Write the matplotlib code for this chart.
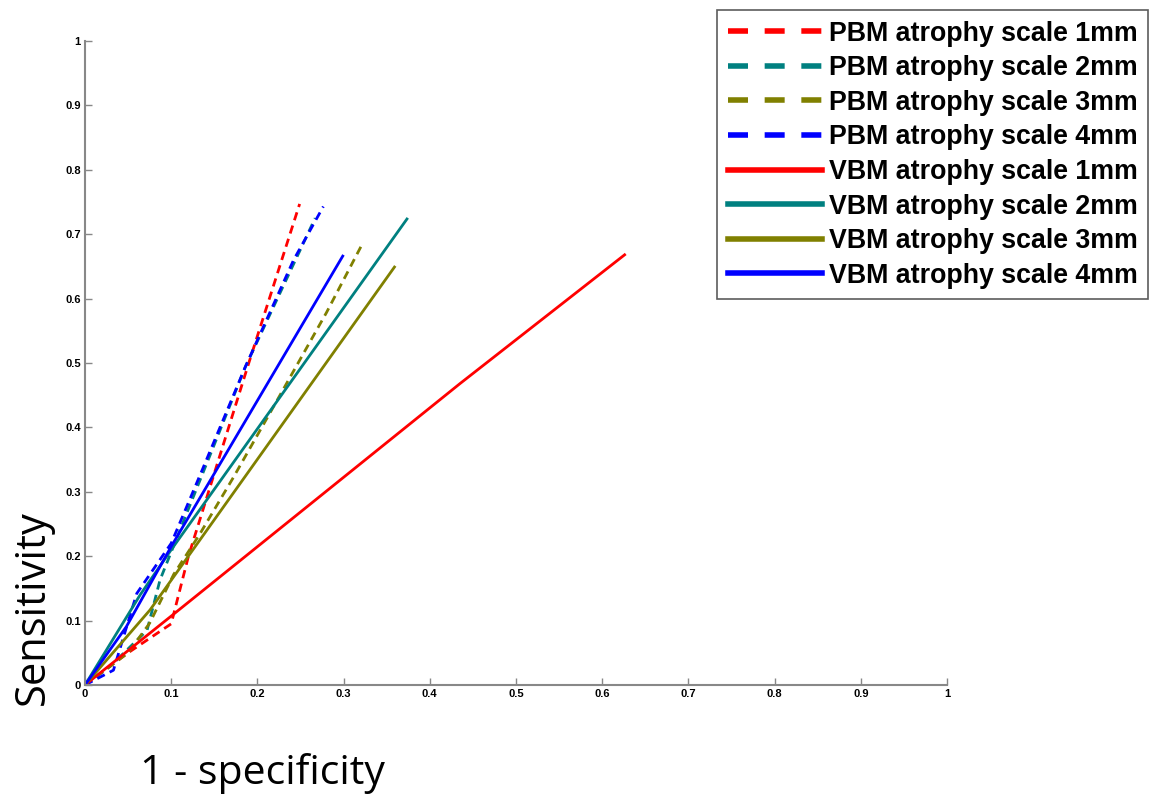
import matplotlib
matplotlib.use("Agg")
import matplotlib.pyplot as plt
from matplotlib.lines import Line2D

labels = ["PBM atrophy scale 1mm", "PBM atrophy scale 2mm", "PBM atrophy scale 3mm", "PBM atrophy scale 4mm",
          "VBM atrophy scale 1mm", "VBM atrophy scale 2mm", "VBM atrophy scale 3mm", "VBM atrophy scale 4mm"]
colors = ["#ff0000", "#008080", "#808000", "#0000ff"] * 2
styles = ["--"] * 4 + ["-"] * 4

pbm1_x = [0, 0.05, 0.10, 0.12, 0.19, 0.249]
pbm1_y = [0, 0.05, 0.095, 0.20, 0.50, 0.747]
pbm2_x = [0, 0.03, 0.072, 0.087, 0.110, 0.149, 0.186, 0.267]
pbm2_y = [0, 0.03, 0.085, 0.163, 0.240, 0.370, 0.494, 0.725]
pbm3_x = [0, 0.05, 0.075, 0.103, 0.133, 0.172, 0.222, 0.280, 0.321]
pbm3_y = [0, 0.05, 0.096, 0.172, 0.234, 0.322, 0.440, 0.578, 0.683]
pbm4_x = [0, 0.033, 0.060, 0.100, 0.136, 0.186, 0.242, 0.2765]
pbm4_y = [0, 0.023, 0.142, 0.220, 0.334, 0.494, 0.660, 0.743]
vbm1_x = [0, 0.10, 0.435, 0.626]
vbm1_y = [0, 0.107, 0.468, 0.668]
vbm2_x = [0, 0.064, 0.10, 0.3735]
vbm2_y = [0, 0.140, 0.210, 0.7236]
vbm3_x = [0, 0.0754, 0.359]
vbm3_y = [0, 0.1165, 0.649]
vbm4_x = [0, 0.048, 0.10, 0.299]
vbm4_y = [0, 0.0906, 0.215, 0.666]

xs = [pbm1_x, pbm2_x, pbm3_x, pbm4_x, vbm1_x, vbm2_x, vbm3_x, vbm4_x]
ys = [pbm1_y, pbm2_y, pbm3_y, pbm4_y, vbm1_y, vbm2_y, vbm3_y, vbm4_y]

ticks = [0, 0.1, 0.2, 0.3, 0.4, 0.5, 0.6, 0.7, 0.8, 0.9, 1]
tick_labels = ["0", "0.1", "0.2", "0.3", "0.4", "0.5", "0.6", "0.7", "0.8", "0.9", "1"]

fig = plt.figure(figsize=(11.5, 7.99), dpi=100)
ax = fig.add_axes([85/1150, 1-685/799, (947-85)/1150, (685-41)/799])

for x, y, c, s in zip(xs, ys, colors, styles):
    ax.plot(x, y, color=c, linestyle=s, linewidth=2.0, **({"dashes": (3, 2)} if s == "--" else {}))

ax.set_xlim(0, 1)
ax.set_ylim(0, 1)
ax.set_xticks(ticks)
ax.set_xticklabels(tick_labels)
ax.set_yticks(ticks)
ax.set_yticklabels(tick_labels)
for sp in ["top", "right"]:
    ax.spines[sp].set_visible(False)
for sp in ["left", "bottom"]:
    ax.spines[sp].set_color("#888888")
    ax.spines[sp].set_linewidth(1.5)
ax.tick_params(direction="in", length=5, width=1, color="#888888", labelsize=8, pad=3)
for lab in ax.get_xticklabels() + ax.get_yticklabels():
    lab.set_fontweight("bold")
    lab.set_family("Liberation Sans")

handles = [Line2D([0], [0], color=c, linestyle=s, linewidth=4,
                  **({"dashes": (3.6, 3.0)} if s == "--" else {})) for c, s in zip(colors, styles)]
leg = fig.legend(handles, labels, loc="upper right", bbox_to_anchor=(1148/1150, 1-10/799),
                 prop={"family": "Liberation Sans", "weight": "bold", "size": 19.3},
                 frameon=True, fancybox=False, edgecolor="#333333", handlelength=3.5,
                 handletextpad=0.25, labelspacing=0.32, borderpad=0.4, borderaxespad=0)
leg.get_frame().set_linewidth(1.2)

fig.text(33/1150, 1-608/799, "Sensitivity", rotation=90, ha="center", va="center",
         family="Open Sans", fontsize=30)
fig.text(140/1150, 1-773/799, "1 - specificity", ha="left", va="center",
         family="Open Sans", fontsize=29.5)

fig.savefig("out.png", dpi=100)
